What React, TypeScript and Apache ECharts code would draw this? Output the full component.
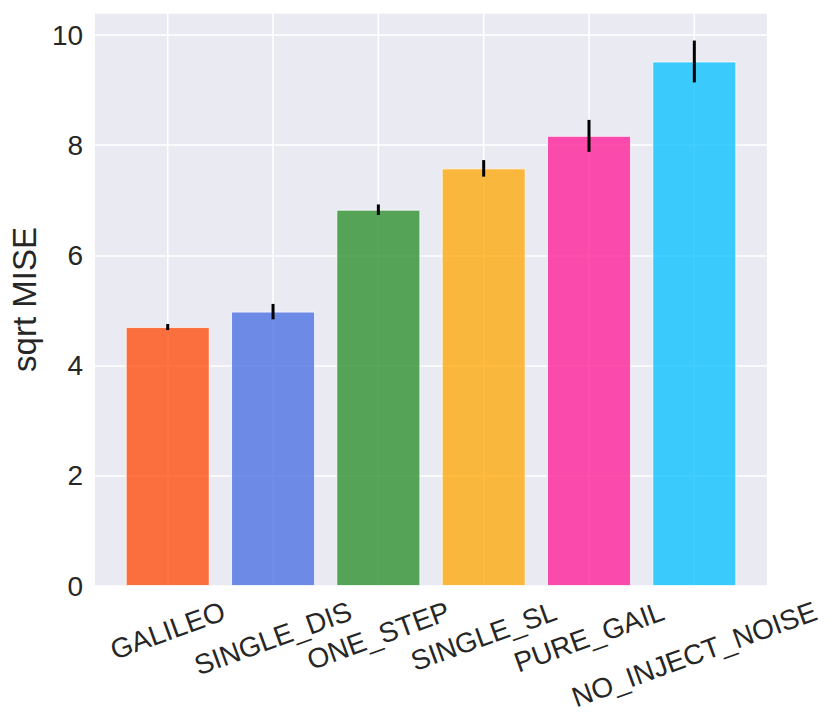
import React, { useEffect, useRef } from "react";
import * as echarts from "echarts";

const categories = ["GALILEO", "SINGLE_DIS", "ONE_STEP", "SINGLE_SL", "PURE_GAIL", "NO_INJECT_NOISE"];
const values = [4.70, 4.98, 6.83, 7.58, 8.17, 9.52];
const errors = [0.055, 0.14, 0.095, 0.15, 0.29, 0.38];
const colors = ["#FF4500", "#4169E1", "#228B22", "#FFA500", "#FF1493", "#00BFFF"];
const yTicks = [0, 2, 4, 6, 8, 10];

const FONT = "'Liberation Sans', Arial, Helvetica, sans-serif";
const TICK_SIZE = 28;
const LABEL_SIZE = 33;
const TEXT_COLOR = "#262626";
const ROT = (20 * Math.PI) / 180;

function measure(text: string, size: number): number {
  const c = document.createElement("canvas").getContext("2d");
  if (!c) return text.length * size * 0.6;
  c.font = `${size}px 'Liberation Sans', Arial, sans-serif`;
  return c.measureText(text).width;
}

export default function App() {
  const ref = useRef<HTMLDivElement>(null);
  useEffect(() => {
    if (!ref.current) return;
    const chart = echarts.init(ref.current, undefined, { renderer: "svg" });
    const yMax = 10.4;
    const widths = categories.map((c) => measure(c, TICK_SIZE));
    chart.setOption({
      animation: false,
      grid: {
        left: 95,
        right: 64,
        top: 13,
        bottom: 135,
        show: true,
        backgroundColor: "#EAEAF2",
        borderWidth: 0,
      },
      xAxis: {
        type: "value",
        min: -0.69,
        max: 5.69,
        axisLine: { show: false },
        axisTick: { show: false },
        axisLabel: { show: false },
        splitLine: { show: false },
      },
      yAxis: {
        type: "value",
        min: 0,
        max: yMax,
        interval: 2,
        name: "sqrt MISE",
        nameLocation: "middle",
        nameGap: 48,
        nameTextStyle: { fontSize: LABEL_SIZE, color: TEXT_COLOR, fontFamily: FONT },
        axisLine: { show: false },
        axisTick: { show: false },
        axisLabel: {
          fontSize: TICK_SIZE,
          color: TEXT_COLOR,
          fontFamily: FONT,
          margin: 12,
          showMaxLabel: false,
          formatter: (v: number) => (yTicks.includes(v) ? String(v) : ""),
        },
        splitLine: { show: true, lineStyle: { color: "#FFFFFF", width: 1.6 } },
      },
      series: [
        {
          type: "custom",
          z: 1,
          silent: true,
          data: categories.map((_, i) => [i]),
          renderItem: (params: any, api: any) => {
            const i = api.value(0);
            const p0 = api.coord([i, 0]);
            const p1 = api.coord([i, yMax]);
            return {
              type: "line",
              shape: { x1: p0[0], y1: p0[1], x2: p1[0], y2: p1[1] },
              style: { stroke: "#FFFFFF", lineWidth: 1.6 },
            };
          },
        },
        {
          type: "bar",
          z: 2,
          barWidth: 84,
          data: values.map((v, i) => ({
            value: [i, v],
            itemStyle: {
              color: colors[i],
              opacity: 0.75,
              borderColor: "#FFFFFF",
              borderWidth: 1,
            },
          })),
        },
        {
          type: "custom",
          z: 3,
          silent: true,
          data: values.map((v, i) => [i, v - errors[i], v + errors[i]]),
          renderItem: (params: any, api: any) => {
            const lo = api.coord([api.value(0), api.value(1)]);
            const hi = api.coord([api.value(0), api.value(2)]);
            return {
              type: "line",
              shape: { x1: lo[0], y1: lo[1], x2: hi[0], y2: hi[1] },
              style: { stroke: "#000000", lineWidth: 3 },
            };
          },
        },
        {
          type: "custom",
          z: 3,
          silent: true,
          data: categories.map((_, i) => [i]),
          renderItem: (params: any, api: any) => {
            const i = api.value(0);
            const p = api.coord([i, 0]);
            const w = widths[i];
            const h = TICK_SIZE * 1.15;
            const boxH = w * Math.sin(ROT) + h * Math.cos(ROT);
            return {
              type: "text",
              x: p[0],
              y: p[1] + 9 + boxH / 2,
              rotation: ROT,
              style: {
                text: categories[i],
                fill: TEXT_COLOR,
                font: `${TICK_SIZE}px ${FONT}`,
                align: "center",
                verticalAlign: "middle",
              },
            };
          },
        },
      ],
    });
    return () => chart.dispose();
  }, []);
  return (
    <div
      ref={ref}
      style={{ position: "absolute", left: 0, top: 0, width: 831, height: 721 }}
    />
  );
}
